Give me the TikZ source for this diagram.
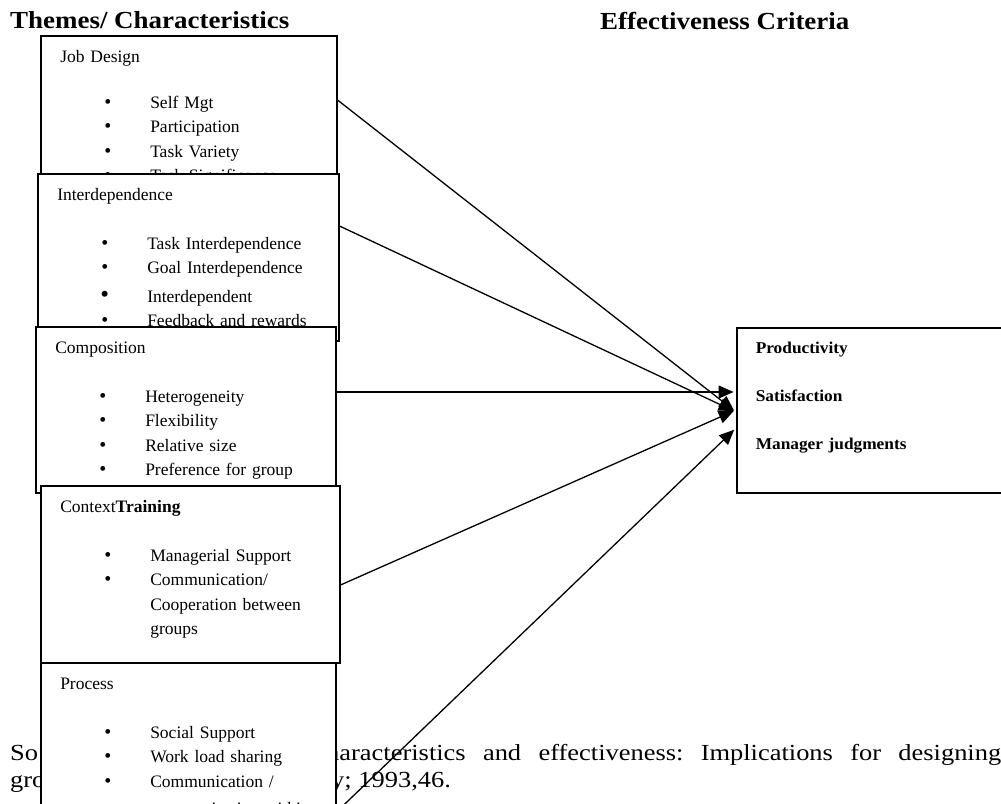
\documentclass[tikz,border=0pt]{standalone}
\usepackage{fontspec}
\setmainfont{Liberation Serif}
\newfontfamily\headfont{Liberation Serif}[FakeStretch=1.1]
\newfontfamily\critfont{Liberation Serif}[FakeStretch=1.05]
\newfontfamily\srcfont{Liberation Serif}[FakeStretch=1.15]
\usetikzlibrary{arrows.meta}
\frenchspacing

\newcommand{\bul}{\hspace*{44pt}\makebox[46pt][l]{\fontsize{20}{20}\selectfont\textbullet}}
\newcommand{\bigbul}{\hspace*{43pt}\makebox[47pt][l]{\fontsize{25}{24}\selectfont\textbullet}}
\newcommand{\ind}{\hspace*{90pt}}

\tikzset{
  themebox/.style={draw, fill=white, line width=1.5pt, anchor=north west,
    inner xsep=19.5pt, inner ysep=0pt, align=left, text height=26.5pt,
    font=\fontsize{17.5}{24.5}\selectfont},
  critbox/.style={draw, fill=white, line width=1.5pt, anchor=north west,
    inner xsep=19pt, inner ysep=0pt, align=left, text height=26pt,
    font=\critfont\bfseries\fontsize{16.5}{48}\selectfont},
  heading/.style={inner sep=0pt, anchor=base west,
    font=\headfont\bfseries\fontsize{24.5}{28}\selectfont},
  source/.style={inner sep=0pt, anchor=base west,
    font=\srcfont\fontsize{23}{27}\selectfont},
  link/.style={line width=1.3pt, -{Triangle[length=15pt,width=13pt]}, shorten >=2.5pt}
}

\begin{document}
\begin{tikzpicture}[x=1pt,y=-1pt]
\useasboundingbox (0,0) rectangle (1001,803);

\node[heading] (themes) at (10,28) {Themes/ Characteristics};
\node[heading] (effect) at (600,29) {Effectiveness Criteria};

\node[source] (src1) at (10,760) {So};
\node[source] (src2) at (10,787) {gro};
\node[source] (src3) at (326,760) {\makebox[675pt][s]{haracteristics and effectiveness: Implications for designing}};
\node[source] (src4) at (331,787) {y; 1993,46.};

\node[themebox, text width=257pt, text depth=170pt] (jobdesign) at (40,35) {Job Design\\[21.5pt]
  \bul Self Mgt\\ \bul Participation\\ \bul Task Variety\\ \bul Task Significance};
\node[themebox, text width=262pt, text depth=140.5pt] (interdep) at (37,173) {Interdependence\\[24.5pt]
  \bul Task Interdependence\\ \bul Goal Interdependence\\[4pt] \bigbul Interdependent\\ \bul Feedback and rewards};
\node[themebox, text width=261pt, text depth=139.5pt] (composition) at (35,326) {Composition\\[24.5pt]
  \bul Heterogeneity\\ \bul Flexibility\\ \bul Relative size\\ \bul\makebox[172pt][s]{Preference for group}};
\node[themebox, text width=260pt, text depth=150.5pt] (context) at (40,485) {Context\textbf{Training}\\[24.5pt]
  \bul Managerial Support\\ \bul Communication/\\ \ind Cooperation between\\ \ind groups};
\node[themebox, text width=256pt, text depth=151.5pt] (process) at (40,662) {Process\\[24.5pt]
  \bul Social Support\\ \bul Work load sharing\\ \bul Communication /\\[3pt] \ind communication within};

\node[critbox, text width=236pt, text depth=139pt] (criteria) at (736,327) {Productivity\\ Satisfaction\\ Manager judgments};

\draw[link] (jobdesign.east |- 0,100) -- (criteria.west |- 0,412);
\draw[link] (interdep.east |- 0,226) -- (criteria.west |- 0,412);
\draw[link] (composition.east |- 0,392) -- (criteria.west |- 0,392);
\draw[link] (context.east |- 0,585) -- (criteria.west |- 0,410);
\draw[link] (process.east |- 0,812) -- (criteria.west |- 0,428);

\end{tikzpicture}
\end{document}
